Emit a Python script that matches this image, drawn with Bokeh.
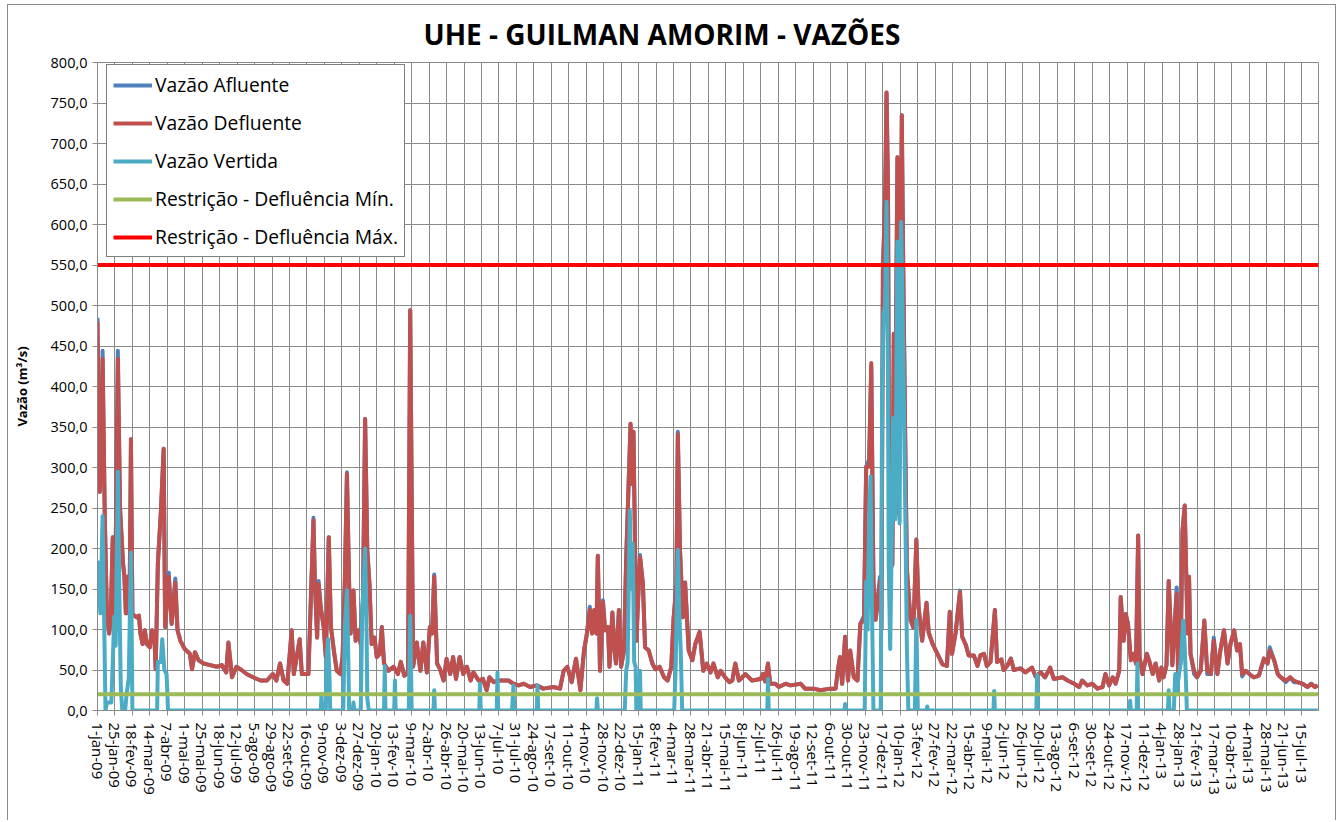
import numpy as np
from bokeh.plotting import figure
from bokeh.models import FixedTicker, Legend, LegendItem, Range1d
from bokeh.embed import file_html
from bokeh.resources import INLINE

# ---------------- data ----------------
# day index since 1-jan-09 (daily series, one category per day)
dia = [0, 1, 3, 5, 7, 10, 13, 16, 18, 21, 24, 28, 31, 35, 37, 39, 41, 44, 46, 48,
       54, 57, 59, 62, 65, 68, 72, 75, 78, 80, 83, 87, 91, 93, 98, 102, 107, 110, 114, 120,
       127, 130, 134, 139, 146, 155, 164, 171, 177, 180, 185, 191, 198, 205, 214, 224, 233, 241, 246, 251,
       256, 261, 267, 270, 278, 281, 290, 292, 297, 299, 302, 304, 307, 311, 314, 318, 321, 325, 329, 334,
       337, 340, 343, 346, 348, 352, 355, 359, 362, 365, 368, 371, 374, 377, 381, 384, 388, 391, 394, 400,
       407, 413, 417, 422, 427, 430, 434, 439, 444, 448, 453, 457, 460, 463, 467, 471, 476, 480, 485, 489,
       493, 498, 503, 508, 513, 517, 524, 530, 535, 539, 545, 552, 558, 565, 572, 579, 586, 595, 604, 613,
       627, 636, 641, 646, 652, 658, 664, 669, 673, 677, 680, 683, 686, 688, 691, 695, 698, 702, 704, 708,
       711, 713, 717, 720, 724, 727, 733, 735, 737, 741, 746, 750, 753, 758, 763, 767, 773, 779, 784, 789,
       792, 796, 798, 801, 805, 808, 813, 818, 822, 828, 833, 838, 843, 847, 853, 857, 863, 869, 873, 877,
       882, 891, 900, 912, 915, 918, 922, 925, 932, 937, 946, 953, 967, 973, 985, 994, 1008, 1015, 1018, 1021,
       1024, 1028, 1032, 1035, 1040, 1045, 1049, 1054, 1057, 1061, 1064, 1067, 1070, 1076, 1078, 1080, 1083, 1085, 1087, 1089,
       1093, 1095, 1097, 1100, 1102, 1106, 1108, 1111, 1113, 1118, 1122, 1126, 1129, 1134, 1140, 1143, 1148, 1155, 1162, 1168,
       1172, 1175, 1180, 1186, 1189, 1194, 1198, 1205, 1210, 1214, 1219, 1223, 1228, 1234, 1237, 1243, 1246, 1251, 1256, 1260,
       1269, 1276, 1285, 1290, 1297, 1303, 1310, 1315, 1327, 1334, 1343, 1350, 1354, 1361, 1368, 1375, 1382, 1386, 1391, 1396,
       1400, 1405, 1407, 1411, 1414, 1417, 1421, 1425, 1428, 1431, 1433, 1437, 1443, 1446, 1451, 1455, 1460, 1463, 1466, 1470,
       1473, 1478, 1484, 1486, 1490, 1492, 1495, 1499, 1501, 1503, 1508, 1512, 1517, 1522, 1526, 1531, 1535, 1540, 1544, 1549,
       1554, 1558, 1563, 1567, 1571, 1574, 1579, 1584, 1590, 1597, 1604, 1609, 1612, 1618, 1623, 1627, 1634, 1640, 1645, 1650,
       1657, 1664, 1669, 1674, 1678]

vazao_defluente = [480, 400, 270, 300, 434, 240, 115, 95, 110, 214, 119, 434, 250, 183, 165, 120, 165, 119, 335, 119,
       115, 117, 95, 82, 99, 82, 78, 99, 95, 51, 181, 243, 323, 103, 165, 107, 158, 99, 86, 76,
       70, 51, 72, 62, 58, 56, 54, 56, 47, 84, 41, 54, 50, 45, 41, 37, 37, 45, 37, 58,
       37, 33, 99, 45, 88, 45, 45, 99, 235, 156, 90, 156, 127, 103, 66, 214, 103, 74, 49, 45,
       66, 156, 292, 156, 95, 148, 86, 99, 82, 136, 360, 198, 156, 82, 90, 66, 70, 103, 58, 49,
       54, 45, 60, 43, 47, 494, 54, 84, 49, 84, 47, 103, 95, 165, 58, 51, 37, 64, 45, 66,
       39, 66, 45, 54, 37, 47, 37, 39, 25, 41, 35, 37, 37, 37, 33, 31, 33, 29, 31, 27,
       29, 27, 49, 54, 35, 64, 25, 74, 95, 124, 95, 124, 95, 191, 49, 134, 99, 103, 54, 121,
       74, 58, 124, 54, 74, 185, 354, 280, 344, 86, 189, 156, 78, 74, 58, 51, 54, 41, 37, 54,
       111, 156, 341, 198, 115, 158, 74, 62, 82, 97, 49, 58, 47, 58, 41, 49, 41, 35, 37, 58,
       37, 45, 37, 39, 45, 36, 58, 33, 33, 29, 33, 31, 33, 27, 27, 25, 27, 27, 49, 66,
       33, 91, 37, 74, 41, 37, 107, 111, 301, 301, 429, 159, 112, 160, 100, 543, 631, 763, 647, 174,
       180, 465, 361, 683, 242, 735, 543, 309, 174, 112, 102, 211, 128, 86, 133, 96, 83, 70, 57, 55,
       122, 70, 96, 146, 91, 81, 68, 68, 55, 68, 70, 55, 60, 124, 60, 63, 50, 55, 64, 50,
       52, 47, 53, 42, 47, 41, 53, 39, 41, 37, 33, 29, 37, 31, 33, 27, 29, 45, 31, 41,
       33, 49, 140, 86, 119, 107, 62, 70, 58, 216, 66, 45, 70, 62, 45, 58, 37, 53, 41, 56,
       160, 56, 144, 39, 103, 222, 253, 95, 165, 70, 49, 41, 49, 111, 49, 45, 86, 45, 74, 99,
       58, 82, 99, 74, 82, 45, 49, 45, 41, 43, 64, 58, 74, 62, 45, 41, 37, 41, 37, 35,
       33, 29, 33, 29, 31]

vazao_afluente = [485, 400, 270, 300, 444, 240, 115, 95, 110, 214, 119, 444, 250, 183, 165, 120, 165, 119, 335, 119,
       115, 117, 95, 82, 99, 82, 78, 99, 95, 51, 181, 243, 323, 103, 170, 107, 163, 99, 86, 76,
       70, 51, 72, 62, 58, 56, 54, 56, 47, 84, 41, 54, 50, 45, 41, 37, 37, 45, 37, 58,
       37, 33, 99, 45, 88, 45, 45, 99, 238, 156, 90, 160, 127, 103, 66, 214, 103, 74, 49, 45,
       66, 156, 294, 156, 95, 148, 86, 99, 82, 136, 360, 198, 156, 82, 90, 66, 70, 103, 58, 49,
       54, 45, 60, 43, 47, 494, 54, 84, 49, 84, 47, 103, 95, 168, 58, 51, 37, 64, 45, 66,
       39, 66, 45, 54, 37, 47, 37, 39, 25, 41, 35, 37, 37, 37, 33, 31, 33, 29, 31, 27,
       29, 27, 49, 54, 35, 64, 25, 74, 95, 128, 95, 124, 95, 191, 49, 136, 99, 103, 54, 121,
       74, 58, 124, 54, 74, 190, 354, 280, 344, 86, 192, 156, 78, 74, 58, 51, 54, 41, 37, 54,
       111, 156, 344, 198, 115, 158, 74, 62, 82, 97, 49, 58, 47, 58, 41, 49, 41, 35, 37, 58,
       37, 45, 37, 39, 45, 36, 58, 33, 33, 29, 33, 31, 33, 27, 27, 25, 27, 27, 49, 66,
       33, 91, 37, 74, 41, 37, 107, 117, 301, 310, 425, 159, 112, 165, 100, 543, 631, 763, 647, 174,
       180, 465, 361, 683, 242, 735, 543, 315, 174, 112, 102, 211, 128, 86, 133, 96, 83, 70, 57, 55,
       122, 70, 96, 148, 91, 81, 68, 68, 55, 68, 70, 55, 60, 124, 60, 63, 50, 55, 64, 50,
       52, 47, 53, 42, 47, 41, 53, 39, 41, 37, 33, 29, 37, 31, 33, 27, 29, 45, 31, 41,
       33, 49, 140, 86, 119, 107, 62, 70, 58, 216, 66, 45, 70, 62, 45, 58, 37, 53, 41, 56,
       160, 56, 152, 39, 103, 222, 253, 95, 165, 70, 45, 41, 49, 111, 45, 45, 90, 45, 74, 99,
       58, 82, 99, 74, 82, 42, 49, 45, 41, 43, 64, 58, 78, 62, 45, 41, 35, 41, 35, 35,
       33, 29, 33, 29, 31]

dia_vertida = [0, 2, 4, 7, 9, 11, 13, 19, 21, 23, 25, 28, 30, 32, 34, 38, 40, 43, 46, 48,
       82, 83, 87, 89, 92, 95, 97, 307, 308, 309, 314, 315, 317, 319, 320, 338, 340, 343, 345, 346,
       351, 352, 353, 362, 364, 368, 370, 371, 373, 394, 395, 396, 408, 409, 410, 428, 430, 432, 462, 463,
       464, 525, 526, 527, 549, 550, 551, 570, 572, 573, 604, 605, 606, 686, 687, 688, 725, 727, 729, 732,
       734, 736, 738, 740, 741, 745, 746, 747, 793, 795, 798, 800, 802, 804, 921, 922, 923, 1027, 1028, 1029,
       1055, 1057, 1059, 1061, 1063, 1065, 1067, 1077, 1079, 1081, 1083, 1085, 1087, 1088, 1090, 1092, 1094, 1097, 1100, 1103,
       1105, 1108, 1111, 1113, 1115, 1124, 1126, 1128, 1140, 1141, 1142, 1232, 1233, 1234, 1291, 1292, 1293, 1419, 1420, 1421,
       1429, 1430, 1431, 1472, 1473, 1474, 1480, 1482, 1484, 1487, 1490, 1493, 1495, 1497, 1498, 1678]

vazao_vertida = [185, 150, 120, 240, 120, 0, 10, 10, 60, 115, 80, 295, 150, 30, 0, 0, 20, 40, 195, 0,
       0, 60, 60, 88, 50, 45, 0, 0, 20, 0, 0, 60, 88, 40, 0, 0, 100, 148, 60, 0,
       0, 10, 0, 0, 120, 200, 100, 15, 0, 0, 55, 0, 0, 37, 0, 0, 117, 0, 0, 25,
       0, 0, 33, 0, 0, 47, 0, 0, 31, 0, 0, 31, 0, 0, 15, 0, 0, 49, 60, 247,
       150, 206, 60, 54, 0, 0, 49, 0, 0, 50, 198, 120, 74, 0, 0, 39, 0, 0, 8, 0,
       0, 159, 100, 231, 289, 128, 0, 0, 403, 490, 500, 628, 400, 180, 76, 200, 361, 236, 579, 231,
       603, 439, 231, 76, 0, 0, 112, 0, 0, 5, 0, 0, 24, 0, 0, 44, 0, 0, 12, 0,
       0, 58, 0, 0, 25, 0, 0, 45, 20, 45, 60, 111, 80, 30, 0, 0]

restricao_min = 20.0
restricao_max = 550.0
dia_inicio, dia_fim = 0, 1679

titulo = "UHE - GUILMAN AMORIM - VAZÕES"

rotulos_x = ["1-jan-09", "25-jan-09", "18-fev-09", "14-mar-09", "7-abr-09", "1-mai-09", "25-mai-09",
             "18-jun-09", "12-jul-09", "5-ago-09", "29-ago-09", "22-set-09", "16-out-09", "9-nov-09",
             "3-dez-09", "27-dez-09", "20-jan-10", "13-fev-10", "9-mar-10", "2-abr-10", "26-abr-10",
             "20-mai-10", "13-jun-10", "7-jul-10", "31-jul-10", "24-ago-10", "17-set-10", "11-out-10",
             "4-nov-10", "28-nov-10", "22-dez-10", "15-jan-11", "8-fev-11", "4-mar-11", "28-mar-11",
             "21-abr-11", "15-mai-11", "8-jun-11", "2-jul-11", "26-jul-11", "19-ago-11", "12-set-11",
             "6-out-11", "30-out-11", "23-nov-11", "17-dez-11", "10-jan-12", "3-fev-12", "27-fev-12",
             "22-mar-12", "15-abr-12", "9-mai-12", "2-jun-12", "26-jun-12", "20-jul-12", "13-ago-12",
             "6-set-12", "30-set-12", "24-out-12", "17-nov-12", "11-dez-12", "4-jan-13", "28-jan-13",
             "21-fev-13", "17-mar-13", "10-abr-13", "4-mai-13", "28-mai-13", "21-jun-13", "15-jul-13"]
passo_rotulo = 24  # one label every 24 daily categories

ticks_y = [0, 50, 100, 150, 200, 250, 300, 350, 400, 450, 500, 550, 600, 650, 700, 750, 800]
rotulos_y = ["0,0", "50,0", "100,0", "150,0", "200,0", "250,0", "300,0", "350,0", "400,0",
             "450,0", "500,0", "550,0", "600,0", "650,0", "700,0", "750,0", "800,0"]

# ---------------- figure ----------------
FONT = "Open Sans"
GRAY = "#8a8a8a"
ticks_x = [i * passo_rotulo for i in range(len(rotulos_x))]

p = figure(width=1329, height=816, output_backend="svg", toolbar_location=None,
           x_range=Range1d(dia_inicio, dia_fim), y_range=Range1d(0, 800),
           min_border_left=89, min_border_right=19, min_border_top=57, min_border_bottom=111,
           title=titulo)
p.title.text_font = FONT
p.title.text_font_size = "28px"
p.title.text_font_style = "bold"
p.title.text_color = "black"
p.title.align = "left"
p.title.offset = 326
p.title.vertical_align = "top"
p.title.standoff = 15

p.outline_line_color = GRAY
p.background_fill_color = "white"
p.border_fill_color = "white"

p.xaxis.ticker = FixedTicker(ticks=ticks_x)
p.xaxis.major_label_overrides = {t: l for t, l in zip(ticks_x, rotulos_x)}
p.xaxis.major_label_orientation = -np.pi / 2
p.yaxis.ticker = FixedTicker(ticks=ticks_y)
p.yaxis.major_label_overrides = {t: l for t, l in zip(ticks_y, rotulos_y)}

for ax in (p.xaxis, p.yaxis):
    ax.axis_line_color = GRAY
    ax.major_tick_line_color = GRAY
    ax.major_tick_out = 5
    ax.major_tick_in = 0
    ax.minor_tick_line_color = None
    ax.major_label_text_font = FONT
    ax.major_label_text_color = "black"
p.xaxis.major_label_text_font_size = "15px"
p.yaxis.major_label_text_font_size = "14.5px"
p.xaxis.major_label_standoff = 7
p.yaxis.major_label_standoff = 5

p.yaxis.axis_label = "Vazão (m³/s)"
p.yaxis.axis_label_text_font = FONT
p.yaxis.axis_label_text_font_size = "13px"
p.yaxis.axis_label_text_font_style = "bold"
p.yaxis.axis_label_text_color = "black"
p.yaxis.axis_label_standoff = 17

p.xgrid.grid_line_color = GRAY
p.ygrid.grid_line_color = GRAY
p.xgrid.grid_line_width = 1
p.ygrid.grid_line_width = 1

r_afl = p.line(dia, vazao_afluente, line_color="#4F81BD", line_width=4, line_join="round")
r_def = p.line(dia, vazao_defluente, line_color="#C0504D", line_width=4, line_join="round")
r_ver = p.line(dia_vertida, vazao_vertida, line_color="#4BACC6", line_width=4, line_join="round")
r_min = p.line([dia_inicio, dia_fim], [restricao_min, restricao_min], line_color="#9BBB59", line_width=4)
r_max = p.line([dia_inicio, dia_fim], [restricao_max, restricao_max], line_color="#FF0000", line_width=4)

legend = Legend(items=[
    LegendItem(label="Vazão Afluente", renderers=[r_afl]),
    LegendItem(label="Vazão Defluente", renderers=[r_def]),
    LegendItem(label="Vazão Vertida", renderers=[r_ver]),
    LegendItem(label="Restrição - Defluência Mín.", renderers=[r_min]),
    LegendItem(label="Restrição - Defluência Máx.", renderers=[r_max]),
], location=(9, 453))
legend.label_text_font = FONT
legend.label_text_font_size = "19.3px"
legend.label_text_color = "black"
legend.glyph_width = 39
legend.glyph_height = 20
legend.spacing = 11
legend.padding = 6
legend.margin = 0
legend.label_standoff = 3
legend.border_line_color = "black"
legend.border_line_width = 1
legend.background_fill_color = "white"
legend.background_fill_alpha = 1.0
p.add_layout(legend, "center")

p.styles = {"margin-left": "7px", "margin-top": "4px",
            "border-left": "1px solid " + GRAY, "border-top": "1px solid " + GRAY,
            "border-right": "1px solid " + GRAY}

open("out.html", "w").write(file_html(p, INLINE))
